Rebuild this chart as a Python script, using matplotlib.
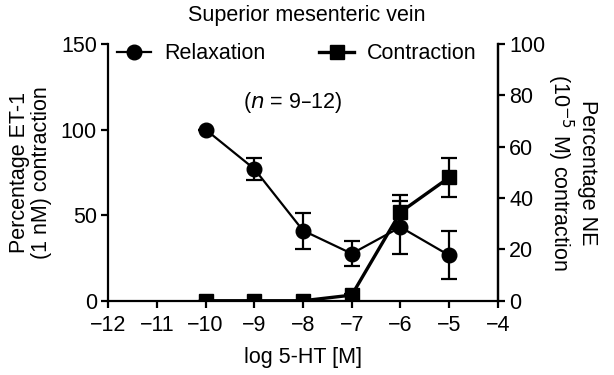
import matplotlib
matplotlib.use("Agg")
import matplotlib.pyplot as plt
from matplotlib.lines import Line2D

FS = 15.5
plt.rcParams['font.family'] = ['Liberation Sans', 'DejaVu Sans']
plt.rcParams['font.size'] = FS

log_conc = [-10, -9, -8, -7, -6, -5]
relaxation = [100, 77, 41, 27.5, 43, 26.5]
relaxation_err = [0, 6.5, 10.5, 7.3, 15.5, 14]
contraction = [0, 0, 0, 2.2, 34.5, 48]
contraction_err = [0, 0, 0, 0.5, 6.5, 7.7]

xticks = [-12, -11, -10, -9, -8, -7, -6, -5, -4]
left_ticks = [0, 50, 100, 150]
right_ticks = [0, 20, 40, 60, 80, 100]

fig = plt.figure(figsize=(6.14, 3.75), dpi=100)
ax = fig.add_axes([0.176, 0.198, 0.635, 0.685])
ax2 = ax.twinx()

ax.errorbar(log_conc, relaxation, yerr=relaxation_err, color='black', lw=1.6,
            marker='o', ms=10.5, capsize=6, capthick=1.6, elinewidth=1.6, zorder=3)
ax2.errorbar(log_conc, contraction, yerr=contraction_err, color='black', lw=2.4,
             marker='s', ms=9.5, capsize=6, capthick=1.6, elinewidth=1.6, zorder=3)

ax.set_xlim(-12, -4)
ax.set_ylim(0, 150)
ax2.set_ylim(0, 100)
ax.set_xticks(xticks)
ax.set_xticklabels([f"\u2212{abs(t)}" for t in xticks])
ax.set_yticks(left_ticks)
ax2.set_yticks(right_ticks)

for a in (ax, ax2):
    a.spines['top'].set_visible(False)
    for s in a.spines.values():
        s.set_linewidth(1.6)
    a.tick_params(direction='out', length=5, width=1.6, labelsize=FS, pad=3)
ax.tick_params(axis='x', pad=5)
ax2.spines['left'].set_visible(False)
ax2.spines['bottom'].set_visible(False)

ax.set_xlabel("log 5-HT [M]", fontsize=FS, labelpad=8)
ax.set_ylabel("Percentage ET-1\n(1 nM) contraction", fontsize=FS, labelpad=6,
              linespacing=1.1)
ax2.set_ylabel("Percentage NE\n(10$^{\u22125}$ M) contraction", fontsize=FS,
               rotation=270, labelpad=38, linespacing=1.1)
fig.text(0.5, 0.96, "Superior mesenteric vein", ha='center', va='center', fontsize=FS)
ax.text(-8.2, 116, "($n$ = 9\u201312)", ha='center', va='center', fontsize=FS)

handles = [Line2D([], [], color='black', lw=1.6, marker='o', ms=10.5),
           Line2D([], [], color='black', lw=2.4, marker='s', ms=9.5)]
leg = ax2.legend(handles, ["Relaxation", "Contraction"], ncol=2, frameon=False,
                 loc='upper left', bbox_to_anchor=(-0.005, 1.045), handlelength=1.6,
                 handletextpad=0.6, columnspacing=2.5, borderpad=0, fontsize=FS)

fig.savefig("out.png", dpi=100)
